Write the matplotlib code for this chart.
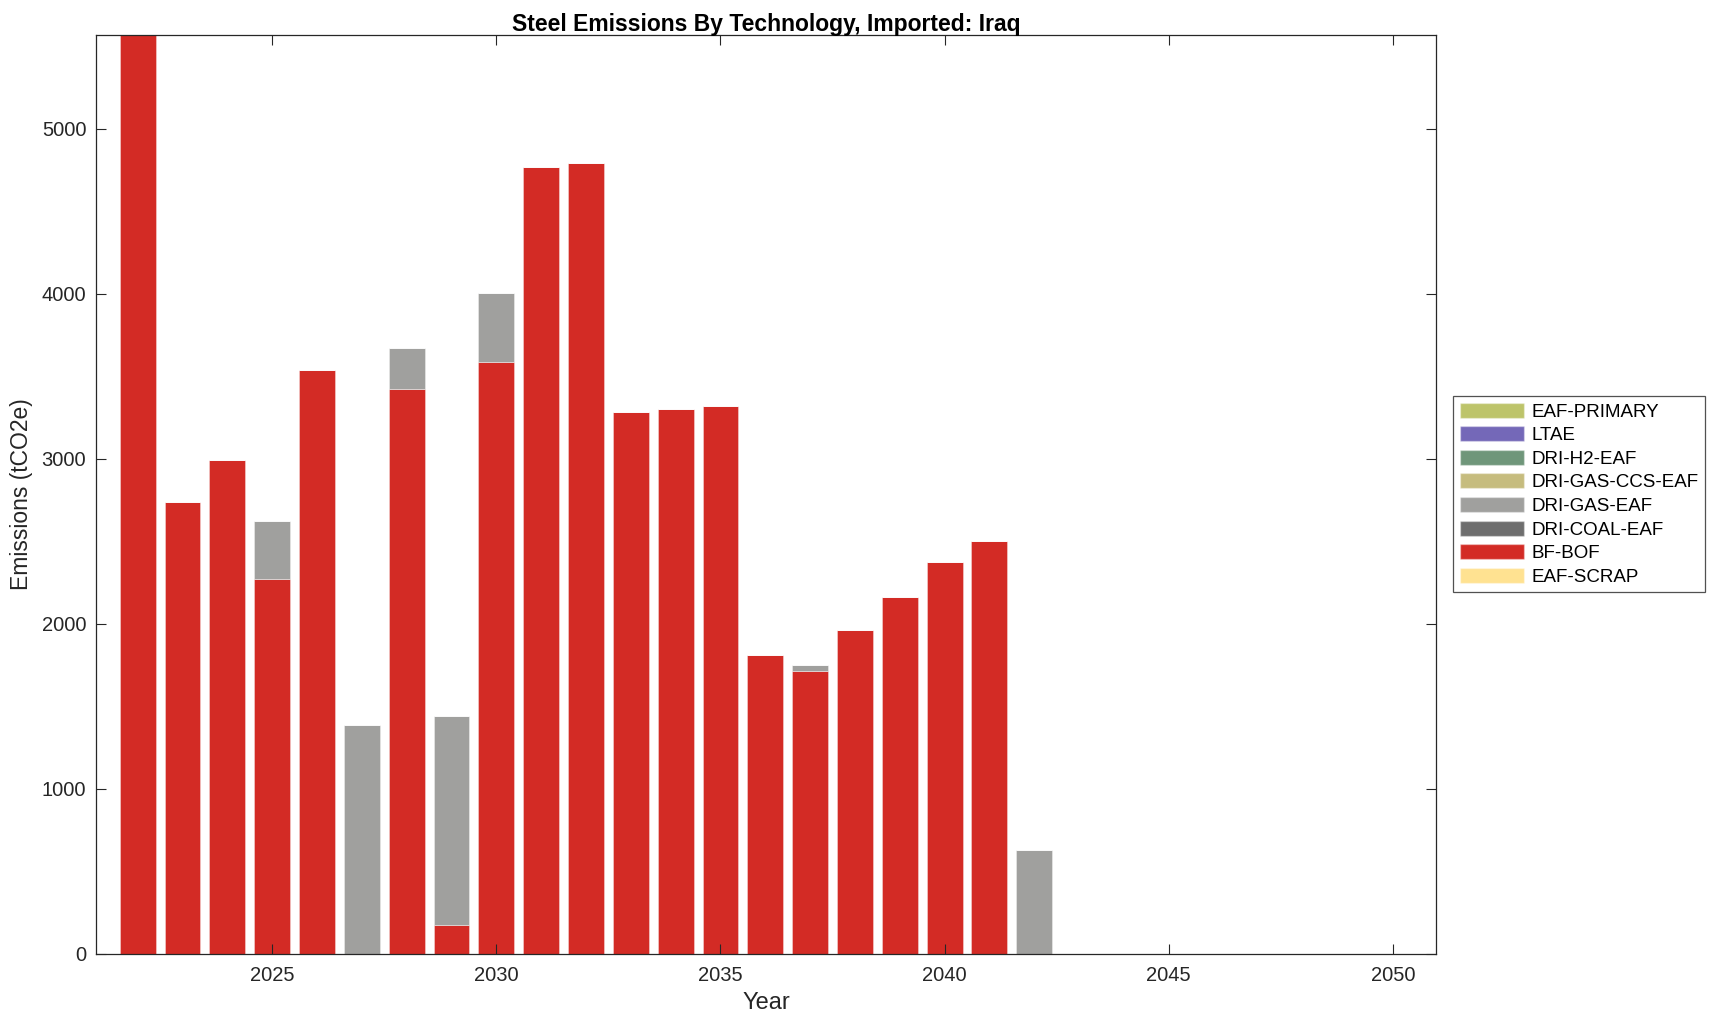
#Steel emissions by technology - imported steel, Iraq
#stacked bars per year, MATLAB-ish look

import numpy as np
import matplotlib.pyplot as plt
from matplotlib.patches import Patch

plt.rcParams['font.family'] = ['Liberation Sans', 'DejaVu Sans']

#data (tCO2e)
years = list(range(2022, 2051))

bf_bof = [5570, 2740, 2990, 2270, 3535, 0, 3422, 172, 3588, 4768,
          4794, 3282, 3302, 3322, 1810, 1711, 1963, 2162, 2374, 2500,
          0, 0, 0, 0, 0, 0, 0, 0, 0]
dri_gas_eaf = [0, 0, 0, 355, 0, 1386, 252, 1267, 417, 0,
               0, 0, 0, 0, 0, 40, 0, 0, 0, 0,
               630, 0, 0, 0, 0, 0, 0, 0, 0]
zeros = [0] * len(years)
eaf_scrap = zeros
dri_coal_eaf = zeros
dri_gas_ccs_eaf = zeros
dri_h2_eaf = zeros
ltae = zeros
eaf_primary = zeros

#bottom to top
techs = ['EAF-SCRAP', 'BF-BOF', 'DRI-COAL-EAF', 'DRI-GAS-EAF',
         'DRI-GAS-CCS-EAF', 'DRI-H2-EAF', 'LTAE', 'EAF-PRIMARY']
series = [eaf_scrap, bf_bof, dri_coal_eaf, dri_gas_eaf,
          dri_gas_ccs_eaf, dri_h2_eaf, ltae, eaf_primary]
colors = ['#FFE291', '#D32B25', '#6E6E6E', '#A0A09E',
          '#C6BC7E', '#6F967A', '#7468B8', '#BDC46A']

fig = plt.figure(figsize=(17.14, 10.21), dpi=100)
ax = fig.add_axes([0.056, 0.066, 0.782, 0.9])

bottom = np.zeros(len(years))
for name, vals, c in zip(techs, series, colors):
    vals = np.array(vals, dtype=float)
    ax.bar(years, vals, width=0.8, bottom=bottom, color=c,
           edgecolor=(1, 1, 1, 0.35), linewidth=0.7, label=name)
    bottom += vals

ax.set_xlim(2021.07, 2050.97)
ax.set_ylim(0, 5570)
ax.set_xticks([2025, 2030, 2035, 2040, 2045, 2050])
ax.set_yticks([0, 1000, 2000, 3000, 4000, 5000])
ax.tick_params(direction='in', top=True, right=True, length=7,
               width=0.8, labelsize=14.5, colors='#262626')
ax.tick_params(axis='x', pad=9)
ax.tick_params(axis='y', pad=7)
for s in ax.spines.values():
    s.set_color('#262626')
    s.set_linewidth(0.9)

ax.set_title('Steel Emissions By Technology, Imported: Iraq',
             fontsize=16.5, fontweight='bold', pad=3)
ax.set_xlabel('Year', fontsize=17, color='#262626', labelpad=5)
ax.set_ylabel('Emissions (tCO2e)', fontsize=16.5, color='#262626', labelpad=6)

#legend in reverse stack order (top of stack first)
handles = [Patch(facecolor=c, edgecolor=(1, 1, 1, 0.35), label=n)
           for n, c in zip(techs[::-1], colors[::-1])]
leg = fig.legend(handles=handles, loc='center left',
                 bbox_to_anchor=(0.848, 0.516), fontsize=13.5,
                 frameon=True, fancybox=False, handlelength=3.4,
                 handleheight=0.85, labelspacing=0.3, borderpad=0.35,
                 handletextpad=0.4, borderaxespad=0)
leg.get_frame().set_edgecolor('#262626')
leg.get_frame().set_linewidth(0.9)

fig.savefig('out.png', dpi=100)
